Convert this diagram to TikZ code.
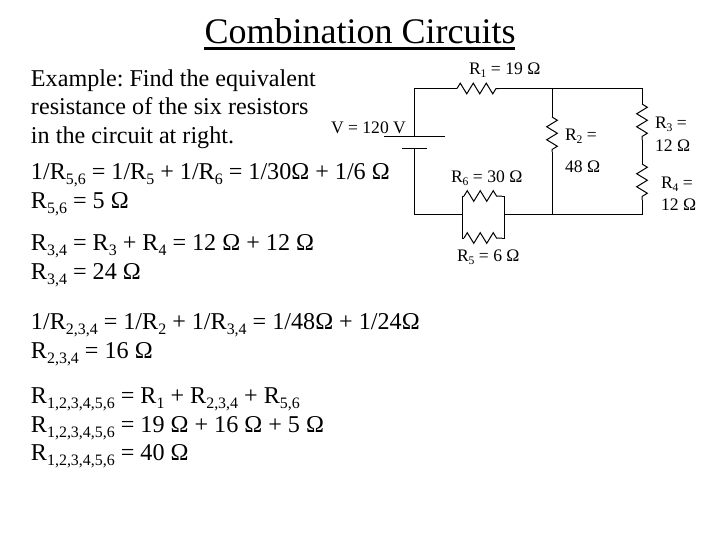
\documentclass[tikz,border=0pt]{standalone}
\usepackage{fontspec}
\setmainfont{Liberation Serif}
\usetikzlibrary{decorations.pathmorphing}
\newcommand{\sbs}[1]{\raisebox{-0.22em}{\scalebox{0.66}{#1}}}
\tikzset{
  x=0.75pt,y=-0.75pt,
  wire/.style={line width=0.75pt,black},
  resistor/.style={line width=0.75pt,black,decorate,decoration={zigzag,segment length=9.75pt,amplitude=4pt}},
  body/.style={anchor=base west,inner sep=0pt,outer sep=0pt,font=\fontsize{18.1}{20}\selectfont},
  small/.style={anchor=base west,inner sep=0pt,outer sep=0pt,font=\fontsize{13.2}{15}\selectfont},
  title/.style={anchor=base,inner sep=0pt,outer sep=0pt,font=\fontsize{27}{30}\selectfont}
}
\begin{document}
\frenchspacing
\begin{tikzpicture}
\useasboundingbox (0,0) rectangle (720,540);
\fill[white] (0,0) rectangle (720,540);
% title
\node[title] (ttl) at (360,43) {Combination Circuits};
\coordinate (ula) at (204,48.5);
\coordinate (ulb) at (515,48.5);
\draw[line width=2.4pt] (ula) -- (ulb);
% text
\node[body] (t1) at (31,86) {Example: Find the equivalent};
\node[body] (t2) at (31,114) {resistance of the six resistors};
\node[body] (t3) at (31,143) {in the circuit at right.};
\node[body] (t4) at (31,179) {1/R\sbs{5,6} = 1/R\sbs{5} + 1/R\sbs{6} = 1/30Ω + 1/6 Ω};
\node[body] (t5) at (31,208) {R\sbs{5,6} = 5 Ω};
\node[body] (t6) at (31,250) {R\sbs{3,4} = R\sbs{3} + R\sbs{4} = 12 Ω + 12 Ω};
\node[body] (t7) at (31,279) {R\sbs{3,4} = 24 Ω};
\node[body] (t8) at (31,329) {1/R\sbs{2,3,4} = 1/R\sbs{2} + 1/R\sbs{3,4} = 1/48Ω + 1/24Ω};
\node[body] (t9) at (31,358) {R\sbs{2,3,4} = 16 Ω};
\node[body] (t10) at (31,403) {R\sbs{1,2,3,4,5,6} = R\sbs{1} + R\sbs{2,3,4} + R\sbs{5,6}};
\node[body] (t11) at (31,432) {R\sbs{1,2,3,4,5,6} = 19 Ω + 16 Ω + 5 Ω};
\node[body] (t12) at (31,460) {R\sbs{1,2,3,4,5,6} = 40 Ω};
% circuit points
\coordinate (bt) at (414.5,136);
\coordinate (bb) at (414.5,148.5);
\coordinate (tl) at (414.5,88.5);
\coordinate (bl) at (414.5,214.4);
\coordinate (r1a) at (457,88.5);
\coordinate (r1b) at (499,88.5);
\coordinate (tj) at (552,88.5);
\coordinate (tr) at (642,88.5);
\coordinate (bj) at (552,214.4);
\coordinate (br) at (642,214.4);
\coordinate (r2a) at (552,117);
\coordinate (r2b) at (552,152);
\coordinate (r3a) at (642,104);
\coordinate (r3b) at (642,140);
\coordinate (r4a) at (642,164);
\coordinate (r4b) at (642,200);
\coordinate (pl) at (462,214.4);
\coordinate (pr) at (504.5,214.4);
\coordinate (plt) at (462,196);
\coordinate (prt) at (504.5,196);
\coordinate (plb) at (462,238);
\coordinate (prb) at (504.5,238);
\coordinate (r6a) at (464,196);
\coordinate (r6b) at (502,196);
\coordinate (r5a) at (464,238);
\coordinate (r5b) at (502,238);
\coordinate (pa) at (384,136);
\coordinate (pb) at (444.5,136);
\coordinate (pc) at (402,148.5);
\coordinate (pd) at (427,148.5);
% wires
\draw[wire] (bt) -- (tl) -- (r1a);
\draw[wire] (r1b) -- (tj) -- (tr) -- (r3a);
\draw[wire] (r3b) -- (r4a);
\draw[wire] (r4b) -- (br) -- (bj) -- (pr);
\draw[wire] (pl) -- (bl) -- (bb);
\draw[wire] (tj) -- (r2a);
\draw[wire] (r2b) -- (bj);
\draw[wire] (r6a) -- (plt) -- (plb) -- (r5a);
\draw[wire] (r6b) -- (prt) -- (prb) -- (r5b);
\draw[wire] (pa) -- (pb);
\draw[wire] (pc) -- (pd);
% resistors
\draw[resistor] (r1a) -- (r1b);
\draw[resistor] (r2a) -- (r2b);
\draw[resistor] (r3a) -- (r3b);
\draw[resistor] (r4a) -- (r4b);
\draw[resistor] (r6a) -- (r6b);
\draw[resistor] (r5a) -- (r5b);
% labels
\node[small] (lv) at (331,133) {V = 120 V};
\node[small] (l1) at (469,74) {R\sbs{1} = 19 Ω};
\node[small] (l2) at (565,140) {R\sbs{2} =};
\node[small] (l2b) at (565,172) {48 Ω};
\node[small] (l3) at (655,128) {R\sbs{3} =};
\node[small] (l3b) at (655,151) {12 Ω};
\node[small] (l4) at (661,188) {R\sbs{4} =};
\node[small] (l4b) at (661,210) {12 Ω};
\node[small] (l6) at (451,182) {R\sbs{6} = 30 Ω};
\node[small] (l5) at (457,261) {R\sbs{5} = 6 Ω};
\end{tikzpicture}
\end{document}
